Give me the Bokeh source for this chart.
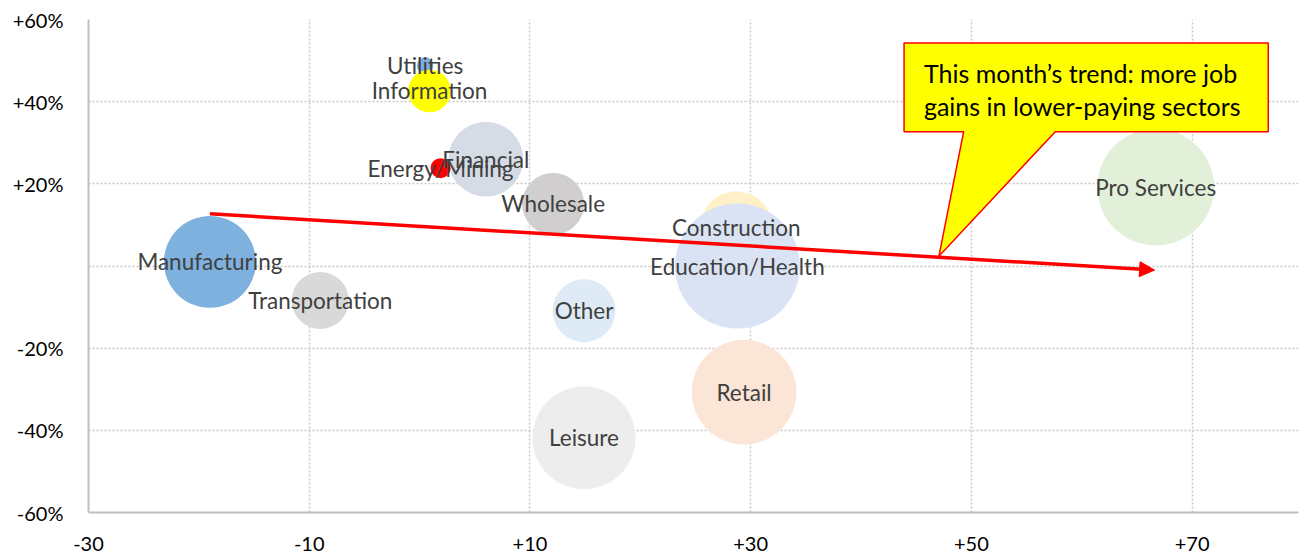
import math
from bokeh.plotting import figure
from bokeh.models import ColumnDataSource, Arrow, NormalHead, FixedTicker, Range1d
from bokeh.embed import file_html
from bokeh.resources import INLINE
from bokeh.core.properties import value

# ---- data ----
sectors = ["Utilities", "Information", "Manufacturing", "Transportation", "Financial",
           "Energy/Mining", "Wholesale", "Construction", "Education/Health", "Other",
           "Leisure", "Retail", "Pro Services"]
x_values = [0.5, 0.9, -19.0, -9.0, 6.0, 1.9, 12.1, 28.7, 28.8, 14.9, 14.9, 29.4, 66.7]
y_values = [48.8, 42.6, 1.0, -8.4, 26.0, 23.8, 15.1, 9.4, 0.0, -10.9, -41.8, -30.7, 19.2]
employment = [0.42, 2.8, 13.0, 5.0, 8.6, 0.62, 5.9, 8.0, 24.0, 6.1, 16.3, 16.9, 21.0]
colors = ["#7EB0DE", "#FFFF00", "#7FB1DF", "#D9D9D9", "#D6DCE5", "#FF0000", "#D0CECE",
          "#FFF0C8", "#DAE3F3", "#DEEBF7", "#EDEDED", "#FBE5D6", "#E2F0D9"]

trend_x = [-19.0, 66.6]
trend_y = [12.7, -1.0]

x_ticks = [-30, -10, 10, 30, 50, 70]
y_ticks = [-60, -40, -20, 0, 20, 40, 60]
y_tick_labels = ["-60%", "-40%", "-20%", "", "+20%", "+40%", "+60%"]
x_tick_labels = ["-30", "-10", "+10", "+30", "+50", "+70"]

callout_lines = ["This month\u2019s trend: more job", "gains in lower-paying sectors"]

FONT = "Lato"
BUBBLE_SCALE = 25.5  # px diameter per sqrt(million jobs)

src = ColumnDataSource(dict(
    x=x_values, y=y_values, name=sectors, color=colors,
    diam=[BUBBLE_SCALE * math.sqrt(e) for e in employment],
))

p = figure(width=1304, height=557, output_backend="svg", toolbar_location=None,
           x_range=Range1d(-30, 79.64), y_range=Range1d(-60, 60),
           min_border_left=88, min_border_top=19, min_border_right=6, min_border_bottom=45)
p.outline_line_color = None
p.background_fill_color = "white"
p.border_fill_color = "white"

# axes
for ax in (p.xaxis[0], p.yaxis[0]):
    ax.axis_line_color = "#BFBFBF"
    ax.axis_line_width = 2
    ax.major_tick_line_color = None
    ax.minor_tick_line_color = None
    ax.major_label_text_font = FONT
    ax.major_label_text_font_size = "20px"
    ax.major_label_text_color = "#000000"

p.xaxis.ticker = FixedTicker(ticks=x_ticks)
p.yaxis.ticker = FixedTicker(ticks=y_ticks)
p.xaxis.major_label_overrides = {t: l for t, l in zip(x_ticks, x_tick_labels)}
p.yaxis.major_label_overrides = {t: l for t, l in zip(y_ticks, y_tick_labels)}
p.xaxis.major_label_standoff = 18
p.yaxis.major_label_standoff = 19

for g in (p.xgrid[0], p.ygrid[0]):
    g.grid_line_color = "#C8C8C8"
    g.grid_line_dash = "2 2"
    g.grid_line_width = 1.5

# bubbles
p.scatter(x="x", y="y", size="diam", fill_color="color", line_color=None, source=src)
p.text(x="x", y="y", text="name", source=src, text_align="center", text_baseline="middle",
       text_font=value(FONT), text_font_size="22.5px", text_color="#404040")

# trend arrow
p.add_layout(Arrow(end=NormalHead(size=15, fill_color="#FF0000", line_color="#FF0000"),
                   x_start=trend_x[0], y_start=trend_y[0], x_end=trend_x[1], y_end=trend_y[1],
                   line_color="#FF0000", line_width=3.5))

# callout
cx = [43.9, 76.9, 76.9, 57.6, 47.06, 49.3, 43.9]
cy = [54.3, 54.3, 32.7, 32.7, 2.4, 32.7, 32.7]
p.patch(cx, cy, fill_color="#FFFF00", line_color="#FF0000", line_width=1.5)
p.text(x=[45.7, 45.7], y=[47.0, 38.9], text=callout_lines, text_align="left",
       text_baseline="middle", text_font=value(FONT), text_font_size="25px",
       text_color="#000000")

open("out.html", "w").write(file_html(p, INLINE))
